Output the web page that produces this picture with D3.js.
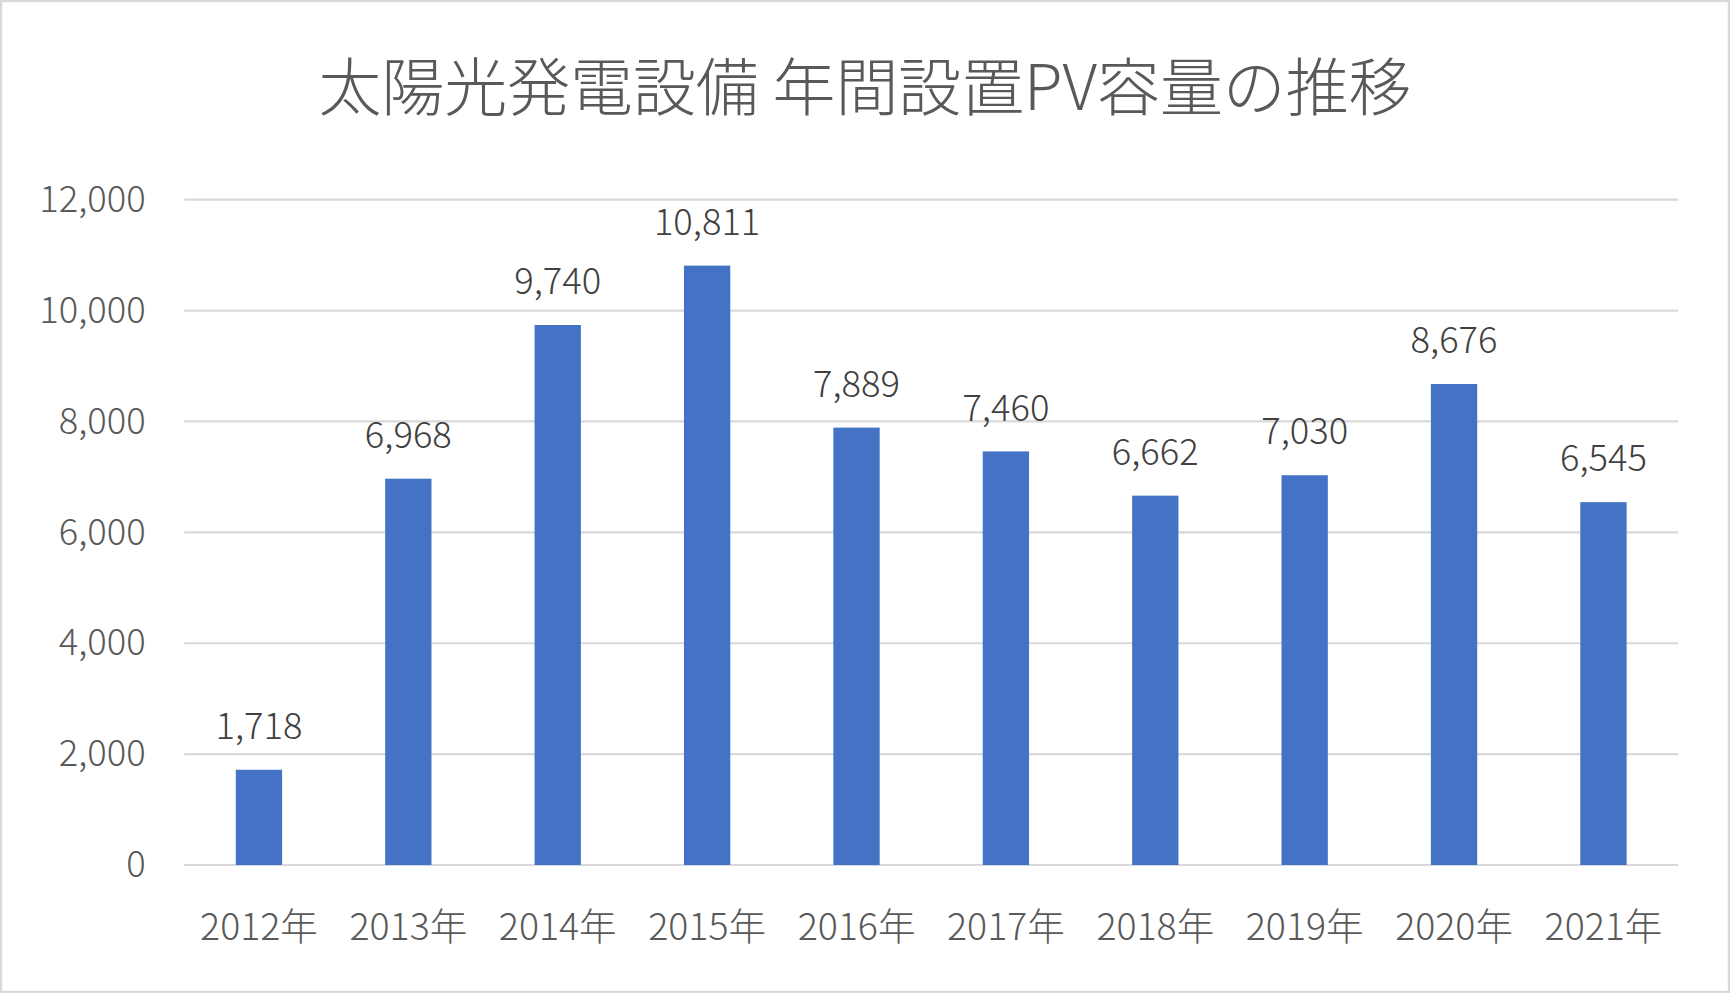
<!DOCTYPE html>
<html><head><meta charset="utf-8">
<script src="https://cdn.jsdelivr.net/npm/d3@7"></script>
<style>body{margin:0;background:#fff}svg{display:block}</style>
</head><body>
<script>
var years = ["2012年","2013年","2014年","2015年","2016年","2017年","2018年","2019年","2020年","2021年"];
var capacity = [1718, 6968, 9740, 10811, 7889, 7460, 6662, 7030, 8676, 6545];
var yTicks = [0, 2000, 4000, 6000, 8000, 10000, 12000];
var title = "太陽光発電設備 年間設置PV容量の推移";

var W = 1568, H = 900;
var font = "'Noto Sans CJK JP','Noto Sans',sans-serif";
var svg = d3.select("body").append("svg")
	.attr("width", 1730).attr("height", 993)
	.attr("viewBox", "0 0 " + W + " " + H);

svg.append("rect").attr("x", 1).attr("y", 1).attr("width", W - 2).attr("height", H - 2)
	.attr("fill", "#fff").attr("stroke", "#d9d9d9").attr("stroke-width", 2);

var x = d3.scaleBand().domain(years).range([167, 1521]).paddingInner(0.69).paddingOuter(0.345);
var y = d3.scaleLinear().domain([0, 12000]).range([784, 181]);

svg.append("text").attr("x", 784).attr("y", 100).attr("text-anchor", "middle")
	.attr("font-family", font).attr("font-weight", 300).attr("font-size", 57).attr("fill", "#595959").text(title);

// grid
svg.selectAll("line.grid").data(yTicks).enter().append("line")
	.attr("x1", 167).attr("x2", 1521)
	.attr("y1", function(d) { return y(d); }).attr("y2", function(d) { return y(d); })
	.attr("stroke", "#d9d9d9").attr("stroke-width", 2);

var yAxis = svg.append("g").attr("transform", "translate(167,0)")
	.call(d3.axisLeft(y).tickValues(yTicks).tickSize(0).tickPadding(35).tickFormat(d3.format(",")));
yAxis.select(".domain").remove();
yAxis.selectAll("text").attr("font-family", font).attr("font-weight", 300).attr("font-size", 33).attr("fill", "#595959");

var xAxis = svg.append("g").attr("transform", "translate(0,784)")
	.call(d3.axisBottom(x).tickSize(0).tickPadding(44));
xAxis.select(".domain").remove();
xAxis.selectAll("text").attr("font-family", font).attr("font-weight", 300).attr("font-size", 34).attr("fill", "#595959");

svg.selectAll("rect.bar").data(capacity).enter().append("rect")
	.attr("x", function(d, i) { return x(years[i]); })
	.attr("width", x.bandwidth())
	.attr("y", function(d) { return y(d); })
	.attr("height", function(d) { return y(0) - y(d); })
	.attr("fill", "#4472c4");

svg.selectAll("text.lbl").data(capacity).enter().append("text")
	.attr("x", function(d, i) { return x(years[i]) + x.bandwidth() / 2; })
	.attr("y", function(d) { return y(d) - 28; })
	.attr("text-anchor", "middle")
	.attr("font-family", font).attr("font-weight", 300).attr("font-size", 33).attr("fill", "#404040")
	.text(d3.format(","));
</script>
</body></html>
